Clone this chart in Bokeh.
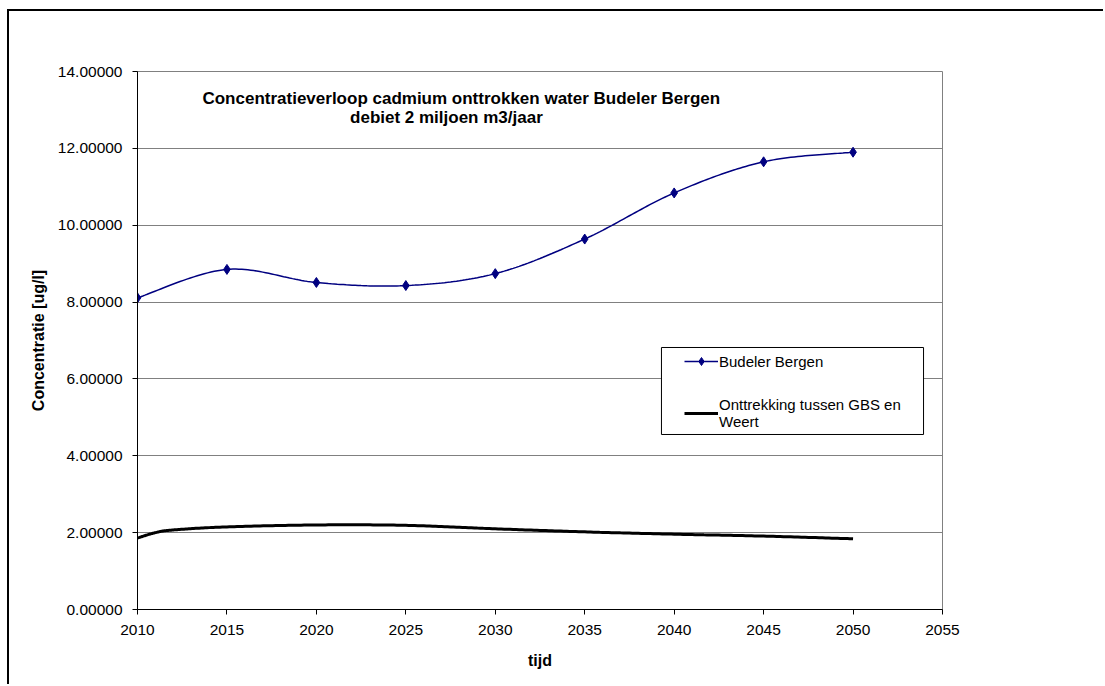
import numpy as np
from bokeh.plotting import figure
from bokeh.models import (FixedTicker, NumeralTickFormatter, Legend, LegendItem,
                          Label, BoxAnnotation, Range1d)
from bokeh.embed import file_html
from bokeh.resources import INLINE

# ---- data ----
years_bb = [2010, 2015, 2020, 2025, 2030, 2035, 2040, 2045, 2050]
conc_bb = [8.11, 8.85, 8.51, 8.43, 8.74, 9.64, 10.84, 11.65, 11.90]

years_gw = [2010, 2011, 2012, 2015, 2020, 2025, 2030, 2035, 2040, 2045, 2050]
conc_gw = [1.86, 2.00, 2.07, 2.15, 2.20, 2.19, 2.10, 2.02, 1.96, 1.91, 1.84]

x_ticks = [2010, 2015, 2020, 2025, 2030, 2035, 2040, 2045, 2050, 2055]
y_ticks = [0, 2, 4, 6, 8, 10, 12, 14]

title_line1 = "Concentratieverloop cadmium onttrokken water Budeler Bergen"
title_line2 = "debiet  2 miljoen m3/jaar"
label_bb = "Budeler Bergen"
label_gw = "Onttrekking tussen GBS en\nWeert"
x_title = "tijd"
y_title = "Concentratie [ug/l]"

FONT = "Liberation Sans"


def smooth(xs, ys, n=30):
    """Bezier (Catmull-Rom style) smoothing like a spreadsheet 'smoothed line'."""
    P = np.column_stack([xs, ys]).astype(float)
    E = np.vstack([P[0], P, P[-1]])
    parts = []
    for i in range(len(P) - 1):
        p0, p1, p2, p3 = E[i], E[i + 1], E[i + 2], E[i + 3]
        c1 = p1 + (p2 - p0) / 6.0
        c2 = p2 - (p3 - p1) / 6.0
        t = np.linspace(0, 1, n, endpoint=(i == len(P) - 2))[:, None]
        seg = ((1 - t) ** 3) * p1 + 3 * ((1 - t) ** 2) * t * c1 + 3 * (1 - t) * (t ** 2) * c2 + (t ** 3) * p2
        parts.append(seg)
    S = np.vstack(parts)
    return S[:, 0], S[:, 1]


p = figure(width=1096, height=675, output_backend="svg", toolbar_location=None,
           x_range=Range1d(2010, 2055), y_range=Range1d(0, 14),
           min_border_left=128, min_border_right=163, min_border_top=60,
           min_border_bottom=77)
p.margin = (9, 0, 0, 7)
p.styles = {"border-left": "2px solid black", "border-top": "2px solid black"}

p.background_fill_color = "white"
p.border_fill_color = "white"
p.outline_line_color = "#808080"
p.outline_line_width = 1

p.xgrid.grid_line_color = None
p.ygrid.grid_line_color = "#808080"
p.ygrid.grid_line_width = 1

for ax in (p.xaxis[0], p.yaxis[0]):
    ax.axis_line_color = "black"
    ax.major_tick_line_color = "black"
    ax.major_tick_out = 5
    ax.major_tick_in = 0
    ax.minor_tick_out = 0
    ax.minor_tick_in = 0
    ax.major_label_text_font = FONT
    ax.major_label_text_font_size = "15.5px"
    ax.major_label_text_color = "black"
    ax.axis_label_text_font = FONT
    ax.axis_label_text_font_size = "16px"
    ax.axis_label_text_font_style = "bold"
    ax.axis_label_text_color = "black"
    ax.major_label_standoff = 10

p.xaxis[0].ticker = FixedTicker(ticks=x_ticks)
p.yaxis[0].ticker = FixedTicker(ticks=y_ticks)
p.yaxis[0].formatter = NumeralTickFormatter(format="0.00000")
p.xaxis[0].axis_label = x_title
p.yaxis[0].axis_label = y_title
p.xaxis[0].axis_label_standoff = 14
p.yaxis[0].axis_label_standoff = 8

# series
sx, sy = smooth(years_bb, conc_bb)
r_bb_line = p.line(sx, sy, line_color="#000080", line_width=1.5)
r_bb_pts = p.scatter(years_bb, conc_bb, marker="diamond", size=10,
                     fill_color="#000080", line_color="#000080")

gx, gy = smooth(years_gw, conc_gw)
r_gw = p.line(gx, gy, line_color="black", line_width=3)

# title inside plot
p.add_layout(Label(x=2028.1, y=13.30, text=title_line1, text_align="center",
                   text_baseline="middle", text_font=FONT, text_font_size="17px",
                   text_font_style="bold", text_color="black"))
p.add_layout(Label(x=2027.4, y=12.80, text=title_line2, text_align="center",
                   text_baseline="middle", text_font=FONT, text_font_size="17px",
                   text_font_style="bold", text_color="black"))

# legend frame
p.add_layout(BoxAnnotation(left=2039.29, right=2053.94, bottom=4.554, top=6.818,
                           fill_color="white", fill_alpha=1.0,
                           line_color="black", line_width=1, line_alpha=1.0))

legend = Legend(items=[LegendItem(label=label_bb, renderers=[r_bb_line, r_bb_pts]),
                       LegendItem(label=label_gw, renderers=[r_gw])],
                location=(547, 179), padding=0, margin=0, spacing=25,
                glyph_width=34, glyph_height=20, label_height=20,
                label_standoff=1, border_line_alpha=0,
                background_fill_alpha=0,
                label_text_font=FONT, label_text_font_size="15px",
                label_text_line_height=1.25,
                label_text_color="black")
p.add_layout(legend, "center")

open("out.html", "w").write(file_html(p, INLINE))
